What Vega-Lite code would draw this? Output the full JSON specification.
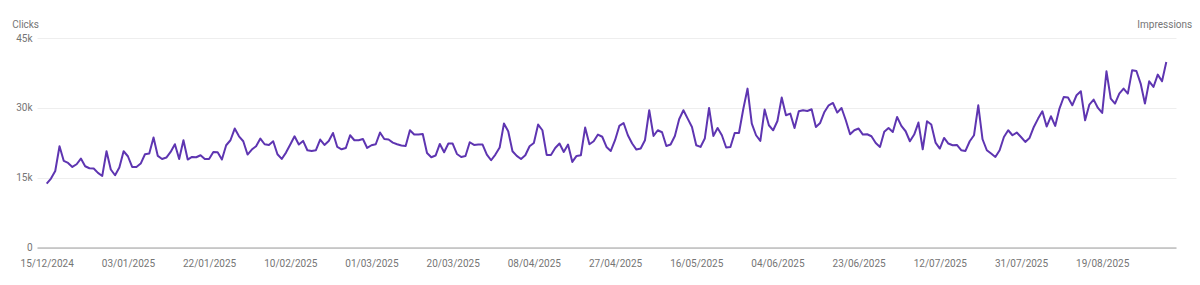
{
  "$schema": "https://vega.github.io/schema/vega-lite/v6.json",
  "width": 1139,
  "height": 209.5,
  "autosize": {"type": "none"},
  "padding": {"left": 37, "top": 38, "right": 24, "bottom": 37.5},
  "config": {"font": "Roboto", "view": {"stroke": null}},
  "data": {"values": [
    {"date":"2024-12-15","clicks":13740},{"date":"2024-12-16","clicks":14810},{"date":"2024-12-17","clicks":16440},{"date":"2024-12-18","clicks":21750},{"date":"2024-12-19","clicks":18590},{"date":"2024-12-20","clicks":18160},{"date":"2024-12-21","clicks":17300},{"date":"2024-12-22","clicks":17880},{"date":"2024-12-23","clicks":19110},{"date":"2024-12-24","clicks":17450},{"date":"2024-12-25","clicks":17020},{"date":"2024-12-26","clicks":16960},{"date":"2024-12-27","clicks":16020},{"date":"2024-12-28","clicks":15370},{"date":"2024-12-29","clicks":20670},{"date":"2024-12-30","clicks":16750},{"date":"2024-12-31","clicks":15520},
    {"date":"2025-01-01","clicks":17170},{"date":"2025-01-02","clicks":20670},{"date":"2025-01-03","clicks":19600},{"date":"2025-01-04","clicks":17300},{"date":"2025-01-05","clicks":17300},{"date":"2025-01-06","clicks":18030},{"date":"2025-01-07","clicks":20030},{"date":"2025-01-08","clicks":20180},{"date":"2025-01-09","clicks":23620},{"date":"2025-01-10","clicks":19670},{"date":"2025-01-11","clicks":19020},{"date":"2025-01-12","clicks":19320},{"date":"2025-01-13","clicks":20520},{"date":"2025-01-14","clicks":22180},{"date":"2025-01-15","clicks":19020},{"date":"2025-01-16","clicks":23040},{"date":"2025-01-17","clicks":18890},{"date":"2025-01-18","clicks":19450},{"date":"2025-01-19","clicks":19390},{"date":"2025-01-20","clicks":19820},{"date":"2025-01-21","clicks":19020},{"date":"2025-01-22","clicks":19020},{"date":"2025-01-23","clicks":20520},{"date":"2025-01-24","clicks":20460},{"date":"2025-01-25","clicks":18890},{"date":"2025-01-26","clicks":21960},{"date":"2025-01-27","clicks":23040},{"date":"2025-01-28","clicks":25550},{"date":"2025-01-29","clicks":23890},{"date":"2025-01-30","clicks":22820},{"date":"2025-01-31","clicks":19970},
    {"date":"2025-02-01","clicks":21040},{"date":"2025-02-02","clicks":21750},{"date":"2025-02-03","clicks":23400},{"date":"2025-02-04","clicks":22180},{"date":"2025-02-05","clicks":22030},{"date":"2025-02-06","clicks":22820},{"date":"2025-02-07","clicks":20030},{"date":"2025-02-08","clicks":19020},{"date":"2025-02-09","clicks":20390},{"date":"2025-02-10","clicks":22110},{"date":"2025-02-11","clicks":23890},{"date":"2025-02-12","clicks":22110},{"date":"2025-02-13","clicks":22890},{"date":"2025-02-14","clicks":20890},{"date":"2025-02-15","clicks":20740},{"date":"2025-02-16","clicks":20890},{"date":"2025-02-17","clicks":23190},{"date":"2025-02-18","clicks":22030},{"date":"2025-02-19","clicks":22890},{"date":"2025-02-20","clicks":24600},{"date":"2025-02-21","clicks":21600},{"date":"2025-02-22","clicks":21100},{"date":"2025-02-23","clicks":21380},{"date":"2025-02-24","clicks":24110},{"date":"2025-02-25","clicks":23040},{"date":"2025-02-26","clicks":23040},{"date":"2025-02-27","clicks":23310},{"date":"2025-02-28","clicks":21380},
    {"date":"2025-03-01","clicks":21960},{"date":"2025-03-02","clicks":22180},{"date":"2025-03-03","clicks":24690},{"date":"2025-03-04","clicks":23310},{"date":"2025-03-05","clicks":23190},{"date":"2025-03-06","clicks":22540},{"date":"2025-03-07","clicks":22180},{"date":"2025-03-08","clicks":21900},{"date":"2025-03-09","clicks":21810},{"date":"2025-03-10","clicks":25180},{"date":"2025-03-11","clicks":24260},{"date":"2025-03-12","clicks":24260},{"date":"2025-03-13","clicks":24390},{"date":"2025-03-14","clicks":20310},{"date":"2025-03-15","clicks":19390},{"date":"2025-03-16","clicks":19750},{"date":"2025-03-17","clicks":22240},{"date":"2025-03-18","clicks":20460},{"date":"2025-03-19","clicks":22330},{"date":"2025-03-20","clicks":22330},{"date":"2025-03-21","clicks":20090},{"date":"2025-03-22","clicks":19450},{"date":"2025-03-23","clicks":19670},{"date":"2025-03-24","clicks":22610},{"date":"2025-03-25","clicks":22030},{"date":"2025-03-26","clicks":22110},{"date":"2025-03-27","clicks":22110},{"date":"2025-03-28","clicks":19970},{"date":"2025-03-29","clicks":18740},{"date":"2025-03-30","clicks":19970},{"date":"2025-03-31","clicks":21470},
    {"date":"2025-04-01","clicks":26620},{"date":"2025-04-02","clicks":24970},{"date":"2025-04-03","clicks":20670},{"date":"2025-04-04","clicks":19670},{"date":"2025-04-05","clicks":19020},{"date":"2025-04-06","clicks":19820},{"date":"2025-04-07","clicks":21750},{"date":"2025-04-08","clicks":22460},{"date":"2025-04-09","clicks":26410},{"date":"2025-04-10","clicks":25180},{"date":"2025-04-11","clicks":19880},{"date":"2025-04-12","clicks":19880},{"date":"2025-04-13","clicks":21380},{"date":"2025-04-14","clicks":22330},{"date":"2025-04-15","clicks":20520},{"date":"2025-04-16","clicks":22110},{"date":"2025-04-17","clicks":18380},{"date":"2025-04-18","clicks":19670},{"date":"2025-04-19","clicks":19820},{"date":"2025-04-20","clicks":25760},{"date":"2025-04-21","clicks":22180},{"date":"2025-04-22","clicks":22820},{"date":"2025-04-23","clicks":24260},{"date":"2025-04-24","clicks":23790},{"date":"2025-04-25","clicks":21600},{"date":"2025-04-26","clicks":20740},{"date":"2025-04-27","clicks":23040},{"date":"2025-04-28","clicks":26110},{"date":"2025-04-29","clicks":26750},{"date":"2025-04-30","clicks":24110},
    {"date":"2025-05-01","clicks":22330},{"date":"2025-05-02","clicks":21040},{"date":"2025-05-03","clicks":21250},{"date":"2025-05-04","clicks":23040},{"date":"2025-05-05","clicks":29480},{"date":"2025-05-06","clicks":23960},{"date":"2025-05-07","clicks":25180},{"date":"2025-05-08","clicks":24750},{"date":"2025-05-09","clicks":21810},{"date":"2025-05-10","clicks":22110},{"date":"2025-05-11","clicks":23960},{"date":"2025-05-12","clicks":27540},{"date":"2025-05-13","clicks":29480},{"date":"2025-05-14","clicks":27690},{"date":"2025-05-15","clicks":25890},{"date":"2025-05-16","clicks":21960},{"date":"2025-05-17","clicks":21600},{"date":"2025-05-18","clicks":23400},{"date":"2025-05-19","clicks":29970},{"date":"2025-05-20","clicks":23960},{"date":"2025-05-21","clicks":25680},{"date":"2025-05-22","clicks":24110},{"date":"2025-05-23","clicks":21470},{"date":"2025-05-24","clicks":21600},{"date":"2025-05-25","clicks":24600},{"date":"2025-05-26","clicks":24600},{"date":"2025-05-27","clicks":29690},{"date":"2025-05-28","clicks":34130},{"date":"2025-05-29","clicks":26620},{"date":"2025-05-30","clicks":24110},{"date":"2025-05-31","clicks":22890},
    {"date":"2025-06-01","clicks":29630},{"date":"2025-06-02","clicks":26260},{"date":"2025-06-03","clicks":25180},{"date":"2025-06-04","clicks":27180},{"date":"2025-06-05","clicks":32200},{"date":"2025-06-06","clicks":28400},{"date":"2025-06-07","clicks":28770},{"date":"2025-06-08","clicks":25680},{"date":"2025-06-09","clicks":29260},{"date":"2025-06-10","clicks":29480},{"date":"2025-06-11","clicks":29330},{"date":"2025-06-12","clicks":29690},{"date":"2025-06-13","clicks":25890},{"date":"2025-06-14","clicks":26750},{"date":"2025-06-15","clicks":29110},{"date":"2025-06-16","clicks":30550},{"date":"2025-06-17","clicks":31040},{"date":"2025-06-18","clicks":28980},{"date":"2025-06-19","clicks":29970},{"date":"2025-06-20","clicks":27330},{"date":"2025-06-21","clicks":24320},{"date":"2025-06-22","clicks":25180},{"date":"2025-06-23","clicks":25550},{"date":"2025-06-24","clicks":24260},{"date":"2025-06-25","clicks":24320},{"date":"2025-06-26","clicks":23890},{"date":"2025-06-27","clicks":22460},{"date":"2025-06-28","clicks":21600},{"date":"2025-06-29","clicks":24860},{"date":"2025-06-30","clicks":25680},
    {"date":"2025-07-01","clicks":24820},{"date":"2025-07-02","clicks":28040},{"date":"2025-07-03","clicks":26110},{"date":"2025-07-04","clicks":24970},{"date":"2025-07-05","clicks":22820},{"date":"2025-07-06","clicks":24260},{"date":"2025-07-07","clicks":26840},{"date":"2025-07-08","clicks":21100},{"date":"2025-07-09","clicks":27110},{"date":"2025-07-10","clicks":26410},{"date":"2025-07-11","clicks":22540},{"date":"2025-07-12","clicks":21250},{"date":"2025-07-13","clicks":23530},{"date":"2025-07-14","clicks":22330},{"date":"2025-07-15","clicks":21960},{"date":"2025-07-16","clicks":22030},{"date":"2025-07-17","clicks":20890},{"date":"2025-07-18","clicks":20740},{"date":"2025-07-19","clicks":22820},{"date":"2025-07-20","clicks":24110},{"date":"2025-07-21","clicks":30550},{"date":"2025-07-22","clicks":23250},{"date":"2025-07-23","clicks":20890},{"date":"2025-07-24","clicks":20180},{"date":"2025-07-25","clicks":19450},{"date":"2025-07-26","clicks":20890},{"date":"2025-07-27","clicks":23740},{"date":"2025-07-28","clicks":25180},{"date":"2025-07-29","clicks":24110},{"date":"2025-07-30","clicks":24690},{"date":"2025-07-31","clicks":23740},
    {"date":"2025-08-01","clicks":22670},{"date":"2025-08-02","clicks":23530},{"date":"2025-08-03","clicks":25890},{"date":"2025-08-04","clicks":27690},{"date":"2025-08-05","clicks":29260},{"date":"2025-08-06","clicks":25980},{"date":"2025-08-07","clicks":28190},{"date":"2025-08-08","clicks":26110},{"date":"2025-08-09","clicks":29840},{"date":"2025-08-10","clicks":32330},{"date":"2025-08-11","clicks":32200},{"date":"2025-08-12","clicks":30550},{"date":"2025-08-13","clicks":32700},{"date":"2025-08-14","clicks":33560},{"date":"2025-08-15","clicks":27330},{"date":"2025-08-16","clicks":30700},{"date":"2025-08-17","clicks":31770},{"date":"2025-08-18","clicks":29970},{"date":"2025-08-19","clicks":28900},{"date":"2025-08-20","clicks":37850},{"date":"2025-08-21","clicks":31990},{"date":"2025-08-22","clicks":30910},{"date":"2025-08-23","clicks":33060},{"date":"2025-08-24","clicks":34130},{"date":"2025-08-25","clicks":33060},{"date":"2025-08-26","clicks":38060},{"date":"2025-08-27","clicks":37910},{"date":"2025-08-28","clicks":35210},{"date":"2025-08-29","clicks":30910},{"date":"2025-08-30","clicks":35700},{"date":"2025-08-31","clicks":34480},
    {"date":"2025-09-01","clicks":37140},{"date":"2025-09-02","clicks":35700},{"date":"2025-09-03","clicks":39850}
  ]},
  "encoding": {
    "x": {
      "field": "date",
      "type": "temporal",
      "scale": {"type": "utc", "padding": 9.7, "nice": false},
      "axis": {
        "values": [
          {"year": 2024, "month": 12, "date": 15, "utc": true},
          {"year": 2025, "month": 1, "date": 3, "utc": true},
          {"year": 2025, "month": 1, "date": 22, "utc": true},
          {"year": 2025, "month": 2, "date": 10, "utc": true},
          {"year": 2025, "month": 3, "date": 1, "utc": true},
          {"year": 2025, "month": 3, "date": 20, "utc": true},
          {"year": 2025, "month": 4, "date": 8, "utc": true},
          {"year": 2025, "month": 4, "date": 27, "utc": true},
          {"year": 2025, "month": 5, "date": 16, "utc": true},
          {"year": 2025, "month": 6, "date": 4, "utc": true},
          {"year": 2025, "month": 6, "date": 23, "utc": true},
          {"year": 2025, "month": 7, "date": 12, "utc": true},
          {"year": 2025, "month": 7, "date": 31, "utc": true},
          {"year": 2025, "month": 8, "date": 19, "utc": true}
        ],
        "labelExpr": "utcFormat(datum.value, '%d/%m/%Y')",
        "grid": false,
        "ticks": false,
        "domain": true,
        "domainColor": "#9e9e9e",
        "domainWidth": 1,
        "labelColor": "#757575",
        "labelFontSize": 10,
        "labelPadding": 11,
        "labelFlush": false,
        "labelOverlap": false,
        "title": null
      }
    }
  },
  "layer": [
    {
      "mark": {"type": "line", "color": "#5e35b1", "strokeWidth": 2, "strokeJoin": "round"},
      "encoding": {
        "y": {
          "field": "clicks",
          "type": "quantitative",
          "scale": {"domain": [0, 45000], "nice": false},
          "axis": {
            "values": [0, 15000, 30000, 45000],
            "labelExpr": "datum.value == 0 ? '0' : (datum.value / 1000) + 'k'",
            "domain": false,
            "ticks": false,
            "gridColor": "#eeeeee",
            "labelColor": "#757575",
            "labelFontSize": 10,
            "labelPadding": 5,
            "title": "Clicks",
            "titleAngle": 0,
            "titleAlign": "left",
            "titleBaseline": "middle",
            "titleX": -25.3,
            "titleY": -13.7,
            "titleFontWeight": "normal",
            "titleFontSize": 10,
            "titleColor": "#757575"
          }
        }
      }
    },
    {
      "mark": {"type": "line", "opacity": 0},
      "encoding": {
        "y": {
          "field": "clicks",
          "type": "quantitative",
          "axis": {
            "orient": "right",
            "labels": false,
            "ticks": false,
            "domain": false,
            "grid": false,
            "title": "Impressions",
            "titleAngle": 0,
            "titleAlign": "right",
            "titleBaseline": "middle",
            "titleX": 15.7,
            "titleY": -13.7,
            "titleFontWeight": "normal",
            "titleFontSize": 10,
            "titleColor": "#757575"
          }
        }
      }
    }
  ],
  "resolve": {"axis": {"y": "independent"}}
}
